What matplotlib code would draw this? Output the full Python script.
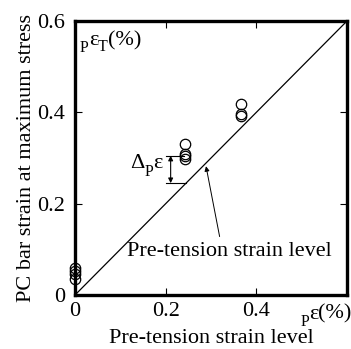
import matplotlib
matplotlib.use("Agg")
import matplotlib.pyplot as plt
import numpy as np

plt.rcParams['font.family'] = ['Liberation Serif', 'DejaVu Serif']

# pre-tension strain (%) and measured strain at max stress (%)
pre_strain = [0.0, 0.0, 0.0, 0.0,
              0.243, 0.243, 0.243, 0.243,
              0.366, 0.366, 0.366]
strain_at_max = [0.035, 0.045, 0.052, 0.060,
                 0.331, 0.308, 0.304, 0.298,
                 0.418, 0.396, 0.391]
ticks = [0, 0.2, 0.4, 0.6]
tick_labels = ['0', '0.2', '0.4', '0.6']

fs = 16
sub = 0.72 * fs
fig = plt.figure(figsize=(3.51, 3.49), dpi=100)
ax = fig.add_axes([0.2137, 0.1547, 0.7749, 0.7851])


def chain(x, y, parts):
    # lay out text pieces side by side, each with its own size and drop
    r = fig.canvas.get_renderer()
    dx = 0
    for s, size, dy in parts:
        t = ax.annotate(s, (x, y), xytext=(dx, dy), textcoords='offset pixels',
                        fontsize=size, ha='left', va='baseline',
                        annotation_clip=False)
        dx += t.get_window_extent(r).width


ax.plot([0, 0.6], [0, 0.6], color='black', lw=0.9)
ax.plot(pre_strain, strain_at_max, 'o', mfc='none', mec='black',
        ms=7.5, mew=0.9, clip_on=False, zorder=5)

ax.set_xlim(0, 0.6)
ax.set_ylim(0, 0.6)
ax.set_xticks(ticks)
ax.set_xticklabels(tick_labels[:-1] + [''])
ax.set_yticks(ticks)
ax.set_yticklabels(tick_labels)
ax.tick_params(direction='in', length=5, width=0.8, top=True, right=True,
               labelsize=fs)
ax.tick_params(axis='x', pad=5)
ax.tick_params(axis='y', pad=7)
for s in ax.spines.values():
    s.set_linewidth(2.4)

ax.set_xlabel('Pre-tension strain level', fontsize=fs, labelpad=6)
ax.set_ylabel('PC bar strain at maximum stress', fontsize=fs, labelpad=1)

# axis unit labels
chain(0.011, 0.547, [('P', sub, -7), ('ε', fs, 0), ('T', sub, -6), ('(%)', fs, 0)])
chain(0.497, -0.052, [('P', sub, -7), ('ε', fs, 0), ('(%)', fs, 0)])

# increment between pre-tension level and measured strain
ax.plot([0.2, 0.24], [0.305, 0.305], color='black', lw=0.8)
ax.plot([0.2, 0.245], [0.245, 0.245], color='black', lw=0.8)
ax.annotate('', xy=(0.211, 0.245), xytext=(0.211, 0.305),
            arrowprops=dict(arrowstyle='<|-|>', color='black', lw=0.8,
                            mutation_scale=7, shrinkA=0, shrinkB=0))
chain(0.121, 0.278, [('Δ', fs, 0), ('P', sub, -8), ('ε', fs, 0)])

# diagonal label
ax.annotate('', xy=(0.289, 0.282), xytext=(0.319, 0.128),
            arrowprops=dict(arrowstyle='-|>', color='black', lw=0.7,
                            mutation_scale=7, shrinkA=0, shrinkB=0))
ax.text(0.34, 0.096, 'Pre-tension strain level', fontsize=fs,
        ha='center', va='center')

fig.savefig('out.png', dpi=100)
